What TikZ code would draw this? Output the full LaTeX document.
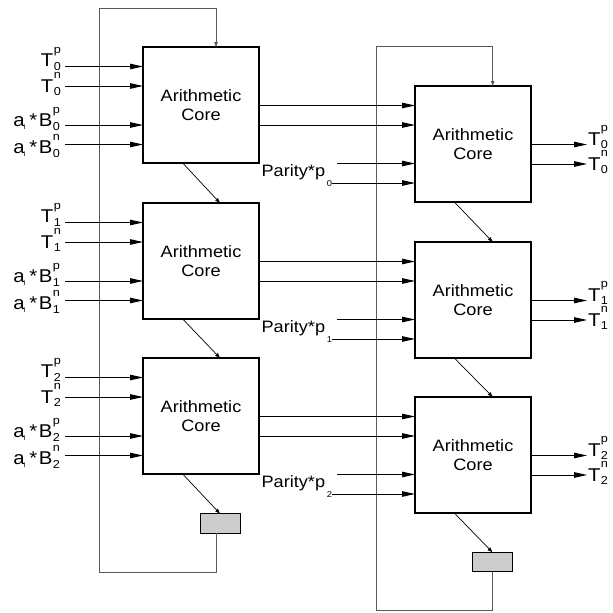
\documentclass[tikz,border=0pt]{standalone}
\usepackage{fontspec}
\setmainfont{Liberation Sans}
\usepackage{graphicx}
\usetikzlibrary{arrows.meta,calc}
\newcommand\supsubx[2]{\rlap{\raisebox{13.5pt}{\fontsize{11.5}{12}\selectfont #1}}\raisebox{-3.5pt}{\fontsize{11.5}{12}\selectfont #2}}
\newcommand\wtext[1]{\scalebox{1.1}[1]{#1}}
\newcommand\tlab[2]{\wtext{\fontsize{18.5}{20}\selectfont T\kern0.5pt\supsubx{#1}{#2}}}
\newcommand\blab[2]{\wtext{\fontsize{18.5}{20}\selectfont a\kern-0.8pt\raisebox{-3pt}{\fontsize{7}{7}\selectfont i}\kern3.5pt*\kern1.5pt B\kern0.5pt\supsubx{#1}{#2}}}
\newcommand\plab[1]{\wtext{\fontsize{16.5}{18}\selectfont Parity*p\kern1.5pt\raisebox{-10.5pt}{\fontsize{8.5}{9}\selectfont #1}}}
\newcommand\coretext{\wtext{\fontsize{16.5}{19.3}\selectfont\begin{tabular}{@{}c@{}}Arithmetic\\Core\end{tabular}}}
\begin{document}
\begin{tikzpicture}[x=1pt,y=-1pt,
  core/.style={draw,line width=1.3pt,minimum width=116pt,minimum height=116pt,
    inner sep=0pt,outer sep=0pt,anchor=north west,
    label={[yshift=-2pt]center:\coretext}},
  reg/.style={draw,line width=1.2pt,fill=black!20,minimum width=39.5pt,
    minimum height=19.5pt,inner sep=0pt,outer sep=0pt,anchor=north west},
  bus/.style={line width=0.9pt,-{Triangle[length=13pt,width=5.5pt]}},
  thinarr/.style={line width=0.7pt,-{Triangle[length=5pt,width=3.5pt]}},
  loopline/.style={line width=0.8pt,draw=black!65},
  lab/.style={inner sep=0pt,outer sep=0pt}]
\useasboundingbox (0,0) rectangle (613,613);

% boxes
\foreach \i/\t in {0/47,1/203,2/358} {
  \node[core] (L\i) at (143,\t) {};
  \node[core] (R\i) at (415,\t+39) {};
}
\node[reg] (GL) at (200.7,513.7) {};
\node[reg] (GR) at (472.7,552.3) {};

% feedback loops
\coordinate (la) at (216,572);
\coordinate (lb) at (99.3,8.3);
\coordinate (ra) at (492.7,610.7);
\coordinate (rb) at (376.7,46.7);
\draw[loopline,-{Triangle[length=5pt,width=3.5pt]}]
  (GL.south -| la) -- (la) -| (lb) -| (L0.north -| la);
\draw[loopline,-{Triangle[length=5pt,width=3.5pt]}]
  (GR.south -| ra) -- (ra) -| (rb) -| (R0.north -| ra);

\foreach \i in {0,1,2} {
  % left inputs: name / line offset / baseline offset
  \foreach \n/\o/\b in {Tp/19.5/0.3,Tn/39/6,Bp/78/1.5,Bn/97.5/9} {
    \coordinate (in\n\i) at ($(L\i.north west)+(-78,\o)$);
    \draw[bus] (in\n\i) -- (L\i.west |- in\n\i);
  }
  \node[lab,anchor=base east] (Tp\i) at ($(inTp\i)+(-4,0.3)$) {\tlab{p}{\i}};
  \node[lab,anchor=base east] (Tn\i) at ($(inTn\i)+(-4,6)$) {\tlab{n}{\i}};
  \node[lab,anchor=base east] (Bp\i) at ($(inBp\i)+(-5,1.5)$) {\blab{p}{\i}};
  \node[lab,anchor=base east] (Bn\i) at ($(inBn\i)+(-5,9)$) {\blab{n}{\i}};
  % left to right
  \draw[bus] ($(L\i.north east)+(0,58.5)$) -- ($(R\i.north west)+(0,19.5)$);
  \draw[bus] ($(L\i.north east)+(0,78)$) -- ($(R\i.north west)+(0,39)$);
  % parity
  \node[lab,anchor=base east] (P\i) at ($(R\i.north west)+(-83,90)$) {\plab{\i}};
  \coordinate (pa\i) at ($(R\i.north west)+(-78,77.5)$);
  \coordinate (pb\i) at ($(R\i.north west)+(-83,97)$);
  \draw[bus] (pa\i) -- (R\i.west |- pa\i);
  \draw[bus] (pb\i) -- (R\i.west |- pb\i);
  % outputs
  \coordinate (oa\i) at ($(R\i.north east)+(56,58.5)$);
  \coordinate (ob\i) at ($(R\i.north east)+(56,78)$);
  \draw[bus] (R\i.east |- oa\i) -- (oa\i);
  \draw[bus] (R\i.east |- ob\i) -- (ob\i);
  \node[lab,anchor=base west] (Op\i) at ($(oa\i)+(1,0.5)$) {\tlab{p}{\i}};
  \node[lab,anchor=base west] (On\i) at ($(ob\i)+(1,6)$) {\tlab{n}{\i}};
}

% chain arrows
\draw[thinarr] ($(L0.south west)+(39.7,0)$) -- ($(L1.north west)+(77,0)$);
\draw[thinarr] ($(L1.south west)+(39.7,0)$) -- ($(L2.north west)+(77,0)$);
\draw[thinarr] ($(L2.south west)+(39.7,0)$) -- ($(GL.north west)+(19.3,0)$);
\draw[thinarr] ($(R0.south west)+(39.3,0)$) -- ($(R1.north west)+(77.7,0)$);
\draw[thinarr] ($(R1.south west)+(39.3,0)$) -- ($(R2.north west)+(77.7,0)$);
\draw[thinarr] ($(R2.south west)+(39.3,0)$) -- (GR.north);
\end{tikzpicture}
\end{document}
